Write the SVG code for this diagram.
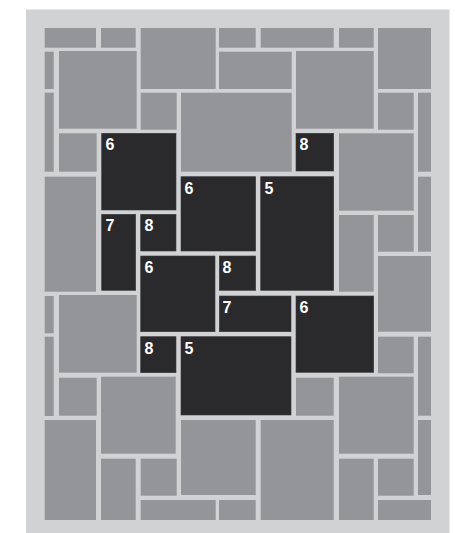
<svg xmlns="http://www.w3.org/2000/svg" width="455" height="533" viewBox="0 0 455 533">
<defs>
<style>
.bg{fill:#d1d2d4}
.t{fill:#939598}
.d{fill:#2a2a2c;stroke:#3a3a3c;stroke-width:0.6}
.l{font-family:"Liberation Sans",Arial,sans-serif;font-weight:bold;font-size:16px;fill:#ffffff}
</style>
</defs>
<rect width="455" height="533" fill="#ffffff"/>
<rect class="bg" x="26" y="9.5" width="423.5" height="524"/>
<g id="grey-tiles">
<rect id="t1" class="t" x="44.7" y="28" width="51.3" height="19.7"/>
<rect id="t2" class="t" x="101" y="28" width="34.7" height="19.7"/>
<rect id="t3" class="t" x="140.7" y="28" width="75" height="61"/>
<rect id="t4" class="t" x="219" y="28" width="36.7" height="19.7"/>
<rect id="t5" class="t" x="44.7" y="51.7" width="9" height="37.3"/>
<rect id="t6" class="t" x="59" y="51" width="77.7" height="77.7"/>
<rect id="t7" class="t" x="219" y="51.7" width="72.7" height="37.3"/>
<rect id="t8" class="t" x="44.7" y="92.7" width="9" height="79"/>
<rect id="t9" class="t" x="140.7" y="92.7" width="36" height="37"/>
<rect id="t10" class="t" x="181" y="92.7" width="110.7" height="79"/>
<rect id="t11" class="t" x="59" y="133.3" width="37.7" height="38.4"/>
<rect id="t13" class="t" x="44.7" y="176.7" width="51.3" height="115"/>
<rect id="t15" class="t" x="260.7" y="28" width="73" height="19.7"/>
<rect id="t16" class="t" x="339" y="28" width="34.7" height="19.7"/>
<rect id="t17" class="t" x="378" y="28" width="53" height="61"/>
<rect id="t18" class="t" x="296" y="51" width="77.7" height="77.7"/>
<rect id="t19" class="t" x="378" y="92.7" width="35.7" height="37"/>
<rect id="t20" class="t" x="418" y="92.7" width="13" height="79"/>
<rect id="t22" class="t" x="339" y="133.3" width="74.7" height="77.4"/>
<rect id="t23" class="t" x="418" y="176.7" width="13" height="75"/>
<rect id="t32" class="t" x="44.7" y="296" width="9" height="37.3"/>
<rect id="t33" class="t" x="59" y="295" width="77.7" height="77.7"/>
<rect id="t34" class="t" x="44.7" y="336.7" width="9" height="79.3"/>
<rect id="t38" class="t" x="339" y="215" width="34.7" height="76.7"/>
<rect id="t39" class="t" x="378" y="215" width="35.7" height="36.7"/>
<rect id="t40" class="t" x="378" y="256" width="53" height="75.7"/>
<rect id="t42" class="t" x="378" y="336.7" width="35.7" height="36.6"/>
<rect id="t43" class="t" x="418" y="336.7" width="13" height="79"/>
<rect id="t44" class="t" x="59" y="377.7" width="37.7" height="38"/>
<rect id="t45" class="t" x="101" y="376.7" width="74.7" height="77"/>
<rect id="t46" class="t" x="44.7" y="420" width="51.3" height="100"/>
<rect id="t47" class="t" x="101" y="458.7" width="34.7" height="61.3"/>
<rect id="t48" class="t" x="140.7" y="458.7" width="36" height="37"/>
<rect id="t49" class="t" x="140.7" y="500" width="75" height="20"/>
<rect id="t50" class="t" x="181" y="420" width="74.7" height="75"/>
<rect id="t51" class="t" x="219" y="500" width="36.7" height="20"/>
<rect id="t52" class="t" x="296" y="377.7" width="37.7" height="38"/>
<rect id="t53" class="t" x="339" y="376.7" width="74.7" height="77"/>
<rect id="t54" class="t" x="260.7" y="420" width="73" height="100"/>
<rect id="t55" class="t" x="339" y="458.7" width="34.7" height="61.3"/>
<rect id="t56" class="t" x="378" y="458.7" width="35.7" height="37"/>
<rect id="t57" class="t" x="378" y="500" width="53" height="20"/>
<rect id="t58" class="t" x="418" y="420" width="13" height="75"/>
</g>
<g id="d12"><rect class="d" x="101.7" y="133.3" width="74.3" height="76.7"/><text class="l" x="105.5" y="150.3">6</text></g>
<g id="d21"><rect class="d" x="296" y="133.3" width="37.7" height="37.7"/><text class="l" x="299.5" y="150.3">8</text></g>
<g id="d24"><rect class="d" x="181" y="176.7" width="74.7" height="74.3"/><text class="l" x="184.5" y="193.7">6</text></g>
<g id="d25"><rect class="d" x="260.7" y="176.7" width="73" height="113.6"/><text class="l" x="264.5" y="193.7">5</text></g>
<g id="d27"><rect class="d" x="101.7" y="214.3" width="34" height="76"/><text class="l" x="105.5" y="231.3">7</text></g>
<g id="d28"><rect class="d" x="140.7" y="214.3" width="35.3" height="36.7"/><text class="l" x="144.5" y="231.3">8</text></g>
<g id="d29"><rect class="d" x="140.7" y="256" width="74.3" height="75.7"/><text class="l" x="144.5" y="273">6</text></g>
<g id="d30"><rect class="d" x="219.3" y="256" width="36.4" height="34.3"/><text class="l" x="222.5" y="273">8</text></g>
<g id="d31"><rect class="d" x="219.3" y="296" width="71.7" height="35.7"/><text class="l" x="222.5" y="313">7</text></g>
<g id="d35"><rect class="d" x="140.7" y="336.7" width="35.3" height="36"/><text class="l" x="144.5" y="353.7">8</text></g>
<g id="d36"><rect class="d" x="181" y="336.7" width="110" height="78.3"/><text class="l" x="184.5" y="353.7">5</text></g>
<g id="d41"><rect class="d" x="296" y="296" width="77.7" height="76.3"/><text class="l" x="299.5" y="313">6</text></g>
</svg>
